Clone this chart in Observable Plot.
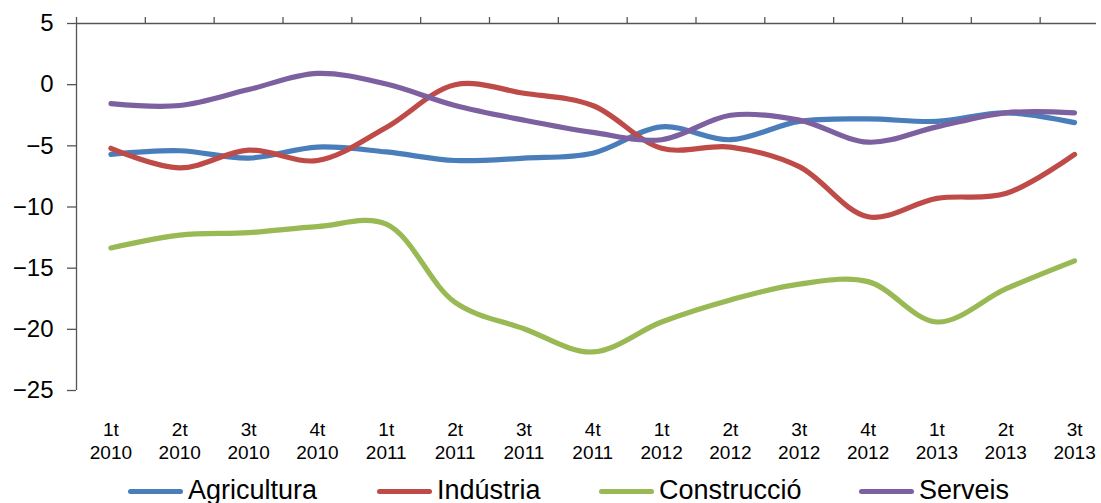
<!DOCTYPE html>
<html>
<head>
<meta charset="utf-8">
<script src="https://cdn.jsdelivr.net/npm/d3@7"></script>
<script src="https://cdn.jsdelivr.net/npm/@observablehq/plot@0.6"></script>
<style>
  html, body { margin: 0; padding: 0; background: #fff; overflow: hidden; }
  #wrap { position: relative; width: 1101px; height: 503px; font-family: "Liberation Sans", Arial, sans-serif; }
  .item { position: absolute; top: 475px; height: 30px; font-size: 27px; line-height: 30px; white-space: nowrap; color: #000; }
  .sw { position: absolute; top: 14px; height: 5px; width: 55px; border-radius: 3px; }
  .lbl { position: absolute; left: 60px; top: 0; }
</style>
</head>
<body>
<div id="wrap"></div>
<script>
const categories = ["1t\n2010","2t\n2010","3t\n2010","4t\n2010","1t\n2011","2t\n2011","3t\n2011","4t\n2011","1t\n2012","2t\n2012","3t\n2012","4t\n2012","1t\n2013","2t\n2013","3t\n2013"];
const seriesNames = ["Agricultura", "Indústria", "Construcció", "Serveis"];
const seriesColors = ["#4A7EBB", "#BE4B48", "#98B954", "#7D60A0"];
const agricultura = [-5.7, -5.4, -6.0, -5.1, -5.5, -6.2, -6.0, -5.6, -3.45, -4.5, -3.0, -2.8, -3.0, -2.3, -3.1];
const industria   = [-5.2, -6.8, -5.35, -6.2, -3.5, 0.0, -0.7, -1.7, -5.2, -5.1, -6.7, -10.8, -9.3, -8.9, -5.7];
const construccio = [-13.35, -12.3, -12.1, -11.6, -11.4, -17.8, -19.95, -21.85, -19.4, -17.6, -16.3, -16.1, -19.4, -16.7, -14.4];
const serveis     = [-1.55, -1.7, -0.4, 0.92, 0.05, -1.7, -2.9, -3.9, -4.5, -2.5, -2.9, -4.7, -3.45, -2.3, -2.3];
const yTicks = [5, 0, -5, -10, -15, -20, -25];
const yDomain = [-25, 5];
const xDomain = [-0.5, categories.length - 0.5];

const allSeries = [agricultura, industria, construccio, serveis];
const boundaries = d3.range(categories.length).map(i => i - 0.5);
const idx = d3.range(categories.length);

const lines = allSeries.map((vals, s) =>
  Plot.line(vals.map((v, i) => ({i, v})), {
    x: "i", y: "v", stroke: seriesColors[s], strokeWidth: 5.2,
    curve: "catmull-rom", strokeLinecap: "round", strokeLinejoin: "round"
  })
);

const chart = Plot.plot({
  width: 1101,
  height: 472,
  marginLeft: 76,
  marginRight: 5,
  marginTop: 23,
  marginBottom: 82,
  style: { fontFamily: "'Liberation Sans', Arial, sans-serif", background: "white", color: "#000" },
  x: { type: "linear", domain: xDomain, range: [76, 1108.5], label: null },
  y: { domain: yDomain, label: null },
  marks: [
    Plot.ruleY([yDomain[1]], { stroke: "#555", strokeWidth: 1.3 }),
    Plot.ruleX([xDomain[0]], { stroke: "#555", strokeWidth: 1.3 }),
    Plot.axisX({ anchor: "top", ticks: boundaries, tickFormat: () => "", tickSize: 7, stroke: "#555", strokeWidth: 1.3, label: null }),
    Plot.axisX({ anchor: "bottom", ticks: idx, tickFormat: i => categories[i], tickSize: 0, tickPadding: 30,
                 fontSize: 19, lineHeight: 1.18, fill: "#000", label: null }),
    Plot.axisY({ ticks: yTicks, tickSize: 9, tickPadding: 14, fontSize: 24, fill: "#000", stroke: "#555", strokeWidth: 1.3, label: null }),
    ...lines
  ]
});

const wrap = document.getElementById("wrap");
wrap.appendChild(chart);

const legendLeft = [128, 377, 599, 859];
seriesNames.forEach((name, s) => {
  const item = document.createElement("div");
  item.className = "item";
  item.style.left = legendLeft[s] + "px";
  const sw = document.createElement("span");
  sw.className = "sw";
  sw.style.background = seriesColors[s];
  const lbl = document.createElement("span");
  lbl.className = "lbl";
  lbl.textContent = name;
  item.appendChild(sw);
  item.appendChild(lbl);
  wrap.appendChild(item);
});
</script>
</body>
</html>
